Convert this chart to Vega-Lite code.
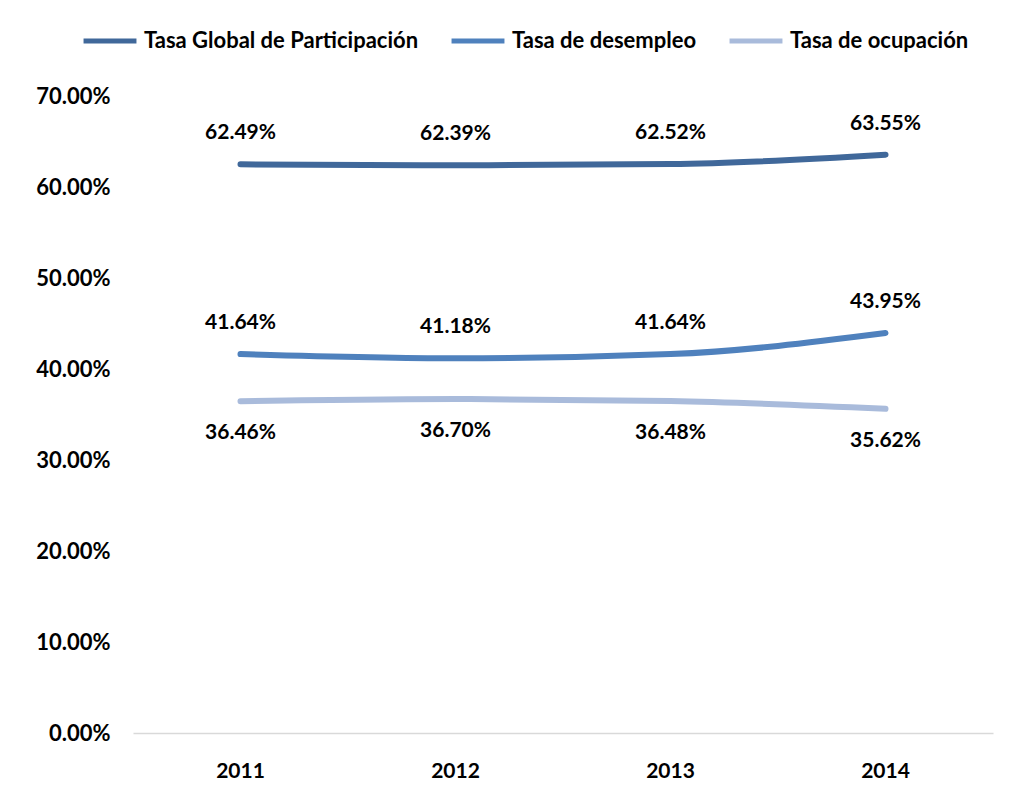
{
  "$schema": "https://vega.github.io/schema/vega-lite/v6.json",
  "width": 860,
  "height": 637,
  "autosize": {"type": "none"},
  "padding": {"left": 133, "top": 96, "right": 17, "bottom": 76},
  "background": "white",
  "config": {
    "view": {"stroke": null},
    "font": "Lato",
    "text": {"font": "Lato"}
  },
  "data": {
    "values": [
      {"year": "2011", "serie": "Tasa Global de Participación", "value": 0.6249},
      {"year": "2012", "serie": "Tasa Global de Participación", "value": 0.6239},
      {"year": "2013", "serie": "Tasa Global de Participación", "value": 0.6252},
      {"year": "2014", "serie": "Tasa Global de Participación", "value": 0.6355},
      {"year": "2011", "serie": "Tasa de desempleo", "value": 0.4164},
      {"year": "2012", "serie": "Tasa de desempleo", "value": 0.4118},
      {"year": "2013", "serie": "Tasa de desempleo", "value": 0.4164},
      {"year": "2014", "serie": "Tasa de desempleo", "value": 0.4395},
      {"year": "2011", "serie": "Tasa de ocupación", "value": 0.3646},
      {"year": "2012", "serie": "Tasa de ocupación", "value": 0.3670},
      {"year": "2013", "serie": "Tasa de ocupación", "value": 0.3648},
      {"year": "2014", "serie": "Tasa de ocupación", "value": 0.3562}
    ]
  },
  "encoding": {
    "x": {
      "field": "year",
      "type": "ordinal",
      "scale": {"type": "band", "paddingInner": 0, "paddingOuter": 0},
      "axis": {
        "title": null,
        "labelAngle": 0,
        "ticks": false,
        "domain": true,
        "domainColor": "#d9d9d9",
        "domainWidth": 1.5,
        "labelFont": "Lato",
        "labelFontSize": 21,
        "labelFontWeight": "bold",
        "labelColor": "#000000",
        "labelPadding": 27
      }
    },
    "y": {
      "field": "value",
      "type": "quantitative",
      "scale": {"domain": [0, 0.7], "nice": false},
      "axis": {
        "title": null,
        "format": ".2%",
        "values": [0, 0.1, 0.2, 0.3, 0.4, 0.5, 0.6, 0.7],
        "grid": false,
        "ticks": false,
        "domain": false,
        "labelFont": "Lato",
        "labelFontSize": 22,
        "labelFontWeight": "bold",
        "labelColor": "#000000",
        "labelPadding": 23
      }
    }
  },
  "layer": [
    {
      "mark": {"type": "line", "interpolate": "monotone", "strokeWidth": 6, "strokeCap": "round"},
      "encoding": {
        "color": {
          "field": "serie",
          "type": "nominal",
          "scale": {
            "domain": ["Tasa Global de Participación", "Tasa de desempleo", "Tasa de ocupación"],
            "range": ["#40689a", "#4f81bd", "#a9bbdb"]
          },
          "legend": {
            "title": null,
            "orient": "none",
            "direction": "horizontal",
            "legendX": -52,
            "legendY": -84,
            "symbolType": "stroke",
            "symbolSize": 2800,
            "symbolStrokeWidth": 5,
            "labelFont": "Lato",
            "labelFontSize": 22,
            "labelFontWeight": "bold",
            "labelColor": "#000000",
            "labelLimit": 0,
            "labelOffset": 5,
            "columnPadding": 22
          }
        }
      }
    },
    {
      "transform": [{"filter": "datum.serie !== 'Tasa de ocupación'"}],
      "mark": {"type": "text", "dy": -31, "fontSize": 21, "fontWeight": "bold", "color": "#000000"},
      "encoding": {"text": {"field": "value", "type": "quantitative", "format": ".2%"}}
    },
    {
      "transform": [{"filter": "datum.serie === 'Tasa de ocupación'"}],
      "mark": {"type": "text", "dy": 32, "fontSize": 21, "fontWeight": "bold", "color": "#000000"},
      "encoding": {"text": {"field": "value", "type": "quantitative", "format": ".2%"}}
    }
  ]
}
